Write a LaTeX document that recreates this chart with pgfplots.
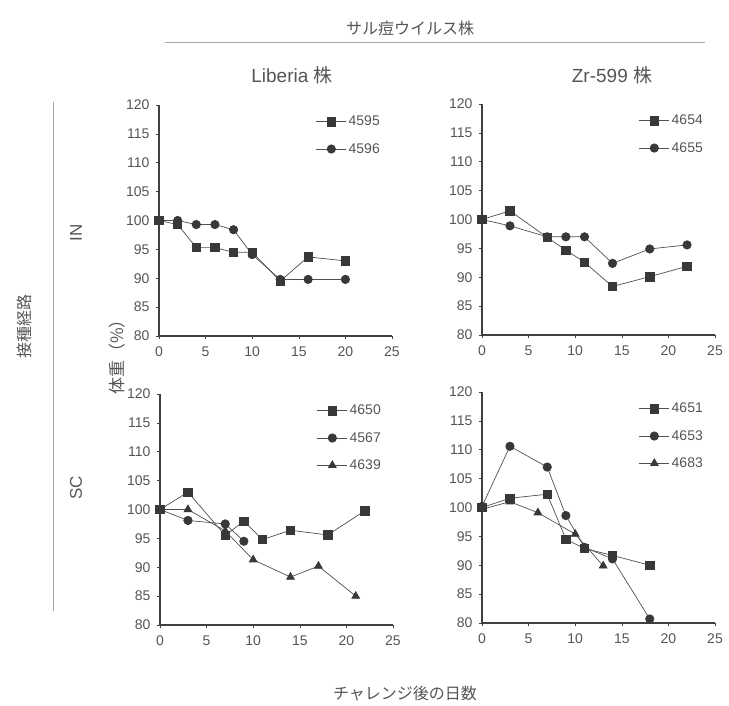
\documentclass[border=0pt]{standalone}
\usepackage{fontspec}
\setmainfont{Liberation Sans}
\newfontfamily\cjk{Noto Sans CJK JP}
\usepackage{pgfplots}
\pgfplotsset{compat=1.18}
\definecolor{txt}{HTML}{555555}
\definecolor{ln}{HTML}{505050}
\definecolor{mk}{HTML}{383838}
\definecolor{ax}{HTML}{404040}
\pgfplotsset{
  panel/.style={
    scale only axis, width=233pt, height=231pt,
    xmin=0, xmax=25, ymin=80, ymax=120,
    axis lines=left, axis line style={-, ax, line width=1.4pt},
    xtick={0,5,...,25}, ytick={80,85,...,120},
    tick align=outside, major tick length=3pt,
    tick style={ax, line width=0.6pt},
    tick label style={font=\fontsize{14}{16}\selectfont, text=txt},
    /pgf/number format/assume math mode=true,
    xticklabel style={yshift=-4pt},
    yticklabel style={xshift=-3pt},
    clip=false,
    legend style={draw=none, fill=none, font=\fontsize{14}{16}\selectfont, text=txt,
      anchor=north west, at={(0.66,0.97)}, row sep=12pt},
    legend cell align=left,
    legend image code/.code={\draw[mark repeat=2,mark phase=2,##1] plot coordinates {(0pt,0pt) (15pt,0pt) (30pt,0pt)};},
    every axis plot/.append style={ln, line width=0.7pt, mark options={fill=mk, draw=mk, solid}},
  },
  sq/.style={mark=square*, mark size=4.2pt},
  ci/.style={mark=*, mark size=4.2pt},
  tr/.style={mark=triangle*, mark size=4.5pt},
}
\begin{document}
\begin{tikzpicture}[x=1pt,y=1pt]
\path[use as bounding box] (0pt,0pt) rectangle (729pt,705pt);
% top titles
\node[text=txt, font=\cjk\fontsize{16}{18}\selectfont] at (410pt,677pt) {サル痘ウイルス株};
\draw[gray!70, line width=0.8pt] (165pt,663pt) -- (705pt,663pt);
\node[text=txt, font=\fontsize{19}{21}\selectfont] at (292pt,630pt) {Liberia {\cjk 株}};
\node[text=txt, font=\fontsize{19}{21}\selectfont] at (612pt,630pt) {Zr-599 {\cjk 株}};
% left labels
\node[text=txt, rotate=90, font=\cjk\fontsize{16}{18}\selectfont] at (24pt,378pt) {接種経路};
\draw[gray!70, line width=0.8pt] (53pt,603pt) -- (53pt,94pt);
\node[text=txt, rotate=90, font=\fontsize{17}{19}\selectfont] at (76pt,472pt) {IN};
\node[text=txt, rotate=90, font=\fontsize{17}{19}\selectfont] at (76pt,217pt) {SC};
\node[text=txt, rotate=90, font=\cjk\fontsize{17}{19}\selectfont] at (117pt,352pt) {体重（\%）};
\node[text=txt, font=\cjk\fontsize{16}{18}\selectfont] at (405pt,12pt) {チャレンジ後の日数};

% Panel 1: Liberia, IN
\begin{axis}[panel, at={(159pt,369pt)}, anchor=south west]
\addplot[sq] coordinates {(0,100) (2,99.3) (4,95.3) (6,95.3) (8,94.5) (10,94.5) (13,89.5) (16,93.7) (20,93)};
\addlegendentry{4595}
\addplot[ci] coordinates {(0,100) (2,100) (4,99.3) (6,99.3) (8,98.4) (10,94.1) (13,89.8) (16,89.8) (20,89.8)};
\addlegendentry{4596}
\end{axis}

% Panel 2: Zr-599, IN
\begin{axis}[panel, at={(482pt,370pt)}, anchor=south west]
\addplot[sq] coordinates {(0,100) (3,101.5) (7,96.9) (9,94.7) (11,92.6) (14,88.4) (18,90.1) (22,91.9)};
\addlegendentry{4654}
\addplot[ci] coordinates {(0,100) (3,98.9) (7,97) (9,97) (11,97) (14,92.4) (18,94.9) (22,95.6)};
\addlegendentry{4655}
\end{axis}

% Panel 3: Liberia, SC
\begin{axis}[panel, at={(160pt,80pt)}, anchor=south west]
\addplot[sq] coordinates {(0,100) (3,103) (7,95.5) (9,98) (11,94.8) (14,96.4) (18,95.6) (22,99.8)};
\addlegendentry{4650}
\addplot[ci] coordinates {(0,100) (3,98.1) (7,97.5) (9,94.5)};
\addlegendentry{4567}
\addplot[tr] coordinates {(0,100) (3,100) (7,96.3) (10,91.3) (14,88.3) (17,90.2) (21,85)};
\addlegendentry{4639}
\end{axis}

% Panel 4: Zr-599, SC
\begin{axis}[panel, at={(482pt,82pt)}, anchor=south west]
\addplot[sq] coordinates {(0,100) (3,101.6) (7,102.3) (9,94.5) (11,92.9) (14,91.7) (18,90)};
\addlegendentry{4651}
\addplot[ci] coordinates {(0,100.2) (3,110.6) (7,107) (9,98.6) (11,93.1) (14,91.1) (18,80.7)};
\addlegendentry{4653}
\addplot[tr] coordinates {(0,99.7) (3,101) (6,99.1) (10,95.4) (13,89.9)};
\addlegendentry{4683}
\end{axis}
\end{tikzpicture}
\end{document}
